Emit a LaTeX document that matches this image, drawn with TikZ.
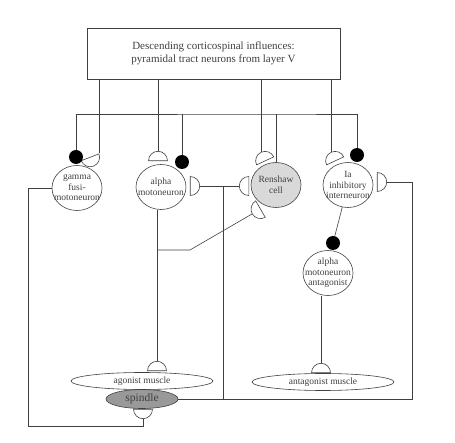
\documentclass[tikz,border=0pt]{standalone}
\usepackage{fontspec}
\setmainfont{Liberation Serif}
\usetikzlibrary{positioning,shapes.geometric,calc}

\begin{document}
\begin{tikzpicture}[x=1pt, y=-1pt, line width=0.6pt, color=black!75,
  box/.style={draw, minimum width=253pt, minimum height=51pt, align=center,
              font=\fontsize{11}{13}\selectfont},
  neuron/.style={draw, ellipse, minimum width=50pt, minimum height=45pt, inner sep=0pt},
  ntext/.style={font=\fontsize{9.5}{10.5}\selectfont, align=center, inner sep=0pt},
  muscle/.style={draw, ellipse, fill=white, minimum width=142pt, minimum height=17pt,
                 inner sep=0pt, font=\fontsize{9.5}{10}\selectfont},
  syn/.style={draw, semicircle, fill=white, minimum width=19pt, inner sep=0pt},
  bouton/.style={circle, fill=black, minimum size=14pt, inner sep=0pt}]

  \useasboundingbox (0,0) rectangle (455,443);

  \node[box] (cortex) at (213.5,53.5) {Descending corticospinal influences:\\pyramidal tract neurons from layer V};

  % cell bodies
  \node[neuron, label={[ntext]center:gamma\\fusi-\\motoneuron}] (gamma) at (77,188) {};
  \node[neuron, label={[ntext]center:alpha\\motoneuron}] (alpha) at (161,187) {};
  \node[neuron, fill=black!15, label={[ntext]center:Renshaw\\cell}] (renshaw) at (276,185) {};
  \node[neuron, label={[ntext]center:Ia\\inhibitory\\interneuron}] (ia) at (348,185) {};
  \node[neuron, label={[ntext]center:alpha\\motoneuron\\antagonist}] (antag) at (328,273) {};

  % muscles
  \node[muscle] (agonist) at (142,381) {agonist muscle};
  \node[muscle] (antmuscle) at (323,382) {antagonist muscle};
  \node[muscle, fill=black!40, minimum width=72pt, minimum height=19pt,
        font=\fontsize{11.5}{12}\selectfont] (spindle) at (142,399) {spindle};

  % synapses
  \node[syn, rotate=201, anchor=chord center] (s_gamma) at (90,157) {};
  \node[syn, anchor=apex] (s_alpha) at (158,151) {};
  \node[syn, rotate=-90, anchor=apex] (s_alpha_r) at (200,186) {};
  \node[syn, rotate=25, anchor=apex] (s_ren) at (261,152) {};
  \node[syn, rotate=90, anchor=apex] (s_ren_l) at (239,186) {};
  \node[syn, rotate=120, anchor=apex] (s_ren_b) at (252,214) {};
  \node[syn, rotate=25, anchor=apex] (s_ia) at (331,152) {};
  \node[syn, rotate=-90, anchor=apex] (s_ia_r) at (387,182) {};
  \node[syn, anchor=apex] (s_agonist) at (157,361) {};
  \node[syn, rotate=180, anchor=apex] (s_spindle) at (143,419) {};
  \node[syn, anchor=apex] (s_antag) at (321,363) {};

  \node[bouton] (b_gamma) at (76,157) {};
  \node[bouton] (b_alpha) at (182,162) {};
  \node[bouton] (b_ia) at (357,155) {};
  \node[bouton] (b_antag) at (333,243) {};

  \coordinate (bus) at (276,114);
  \coordinate (kink) at (190,250);
  \coordinate (afferent) at (223,399);
  \coordinate (ia_in) at (412,182);
  \coordinate (gloop) at (28,426);

  % pyramidal tract
  \draw (cortex.south -| s_gamma.arc end) -- (s_gamma.arc end);
  \draw (cortex.south -| s_alpha.apex) -- (s_alpha.apex);
  \draw (cortex.south -| s_ren.apex) -- (s_ren.apex);
  \draw (cortex.south -| s_ia.apex) -- (s_ia.apex);

  % Renshaw output
  \draw (renshaw) -- (bus);
  \draw (b_gamma) |- (bus) -| (b_ia);
  \draw (b_alpha) -- (b_alpha |- bus);

  % motor axons
  \draw (alpha.south -| s_agonist.apex) -- (s_agonist.apex);
  \draw (s_agonist.apex |- kink) -- (kink) -- (s_ren_b.apex);
  \draw (antag.south -| s_antag.apex) -- (s_antag.apex);
  \draw (ia) -- (b_antag);
  \draw (gamma.west) -| (gloop) -| (s_spindle.apex);

  % spindle afferent
  \draw (spindle.east) -| (ia_in) -- (s_ia_r.apex);
  \draw (afferent) -- (afferent |- s_ren_l.apex);
  \draw (s_alpha_r.apex) -- (s_ren_l.apex);
\end{tikzpicture}
\end{document}
